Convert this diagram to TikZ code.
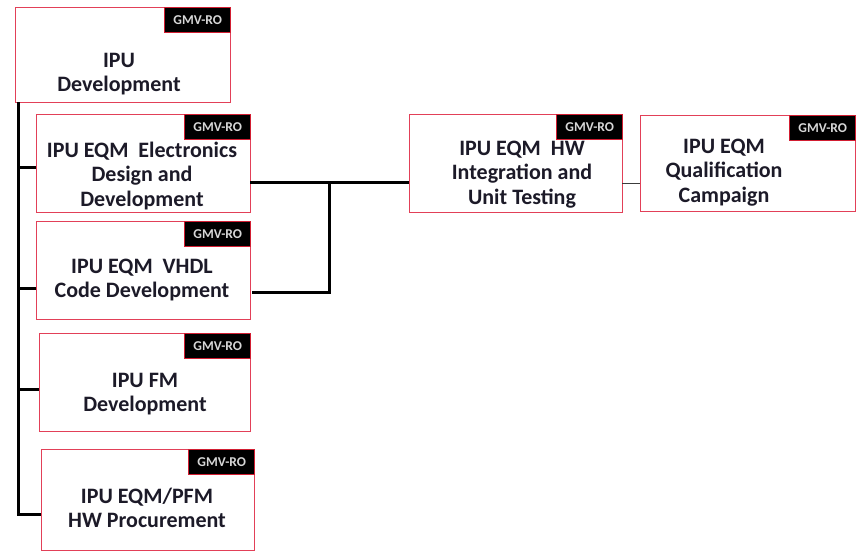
\documentclass[tikz,border=0pt]{standalone}
\usepackage{fontspec}
\setmainfont{Carlito}
\begin{document}
\begin{tikzpicture}[x=1pt,y=1pt,
  wbox/.style={draw={rgb,255:red,226;green,64;blue,88}, line width=1.3pt, fill=white,
    inner sep=0pt, anchor=north west},
  tag/.style={draw={rgb,255:red,210;green,30;blue,50}, line width=1.1pt, fill=black,
    text={rgb,255:red,215;green,215;blue,215}, inner sep=0pt, anchor=north east,
    minimum width=66pt, minimum height=25pt,
    font=\bfseries\fontsize{13.5}{13.5}\selectfont},
  lbl/.style={anchor=base, inner sep=0pt, text={rgb,255:red,28;green,26;blue,40},
    font=\bfseries\fontsize{22}{24.5}\selectfont},
  conn/.style={draw=black, line width=3pt},
  thin/.style={draw={rgb,255:red,60;green,60;blue,60}, line width=1pt}]
\setlength{\tabcolsep}{0pt}
\useasboundingbox (0,0) rectangle (857,-552);

% work package boxes
\node[wbox, minimum width=215pt, minimum height=95pt] (A) at (15,-7) {};
\node[wbox, minimum width=214pt, minimum height=98pt] (B) at (36,-114) {};
\node[wbox, minimum width=214pt, minimum height=98pt] (C) at (36,-221) {};
\node[wbox, minimum width=211pt, minimum height=98pt] (D) at (39,-333) {};
\node[wbox, minimum width=213pt, minimum height=101pt] (E) at (41,-449) {};
\node[wbox, minimum width=213pt, minimum height=98pt] (F) at (409,-114) {};
\node[wbox, minimum width=215pt, minimum height=96pt] (G) at (640,-115) {};

% owner tags
\node[tag] (At) at (A.north east) {GMV-RO};
\node[tag] (Bt) at (B.north east) {GMV-RO};
\node[tag] (Ct) at (C.north east) {GMV-RO};
\node[tag] (Dt) at (D.north east) {GMV-RO};
\node[tag] (Et) at (E.north east) {GMV-RO};
\node[tag] (Ft) at (F.north east) {GMV-RO};
\node[tag] (Gt) at (G.north east) {GMV-RO};

% box titles
\node[lbl] (Al) at (119,-67) {\begin{tabular}[t]{c}IPU\\Development\end{tabular}};
\node[lbl] (Bl) at (142,-157) {\begin{tabular}[t]{c}IPU EQM\ \ Electronics\\Design and\\Development\end{tabular}};
\node[lbl] (Cl) at (142,-273) {\begin{tabular}[t]{c}IPU EQM\ \ VHDL\\Code Development\end{tabular}};
\node[lbl] (Dl) at (145,-387) {\begin{tabular}[t]{c}IPU FM\\Development\end{tabular}};
\node[lbl] (El) at (147,-503) {\begin{tabular}[t]{c}IPU EQM/PFM\\HW Procurement\end{tabular}};
\node[lbl] (Fl) at (522,-155) {\begin{tabular}[t]{c}IPU EQM\ \ HW\\Integration and\\Unit Testing\end{tabular}};
\node[lbl] (Gl) at (724,-153) {\begin{tabular}[t]{c}IPU EQM\\Qualification\\Campaign\end{tabular}};

% left trunk and its branches
\coordinate (top) at (18,-102);
\coordinate (jB) at (18,-167);
\coordinate (jC) at (18,-288);
\coordinate (jD) at (18,-389);
\coordinate (jE) at (18,-514);
\draw[conn] (top) -- (jE) -- (jE -| E.west);
\draw[conn] (jB) -- (jB -| B.west);
\draw[conn] (jC) -- (jC -| C.west);
\draw[conn] (jD) -- (jD -| D.west);

% merge of electronics and VHDL into integration
\coordinate (oB) at (250,-182);
\coordinate (oC) at (252,-292);
\coordinate (mC) at (329,-292);
\draw[conn] (oB) -- (oB -| F.west);
\draw[conn] (oC) -- (mC) -- (mC |- oB);

% integration to qualification
\coordinate (oF) at (622,-183);
\draw[thin] (oF) -- (oF -| G.west);
\end{tikzpicture}
\end{document}
